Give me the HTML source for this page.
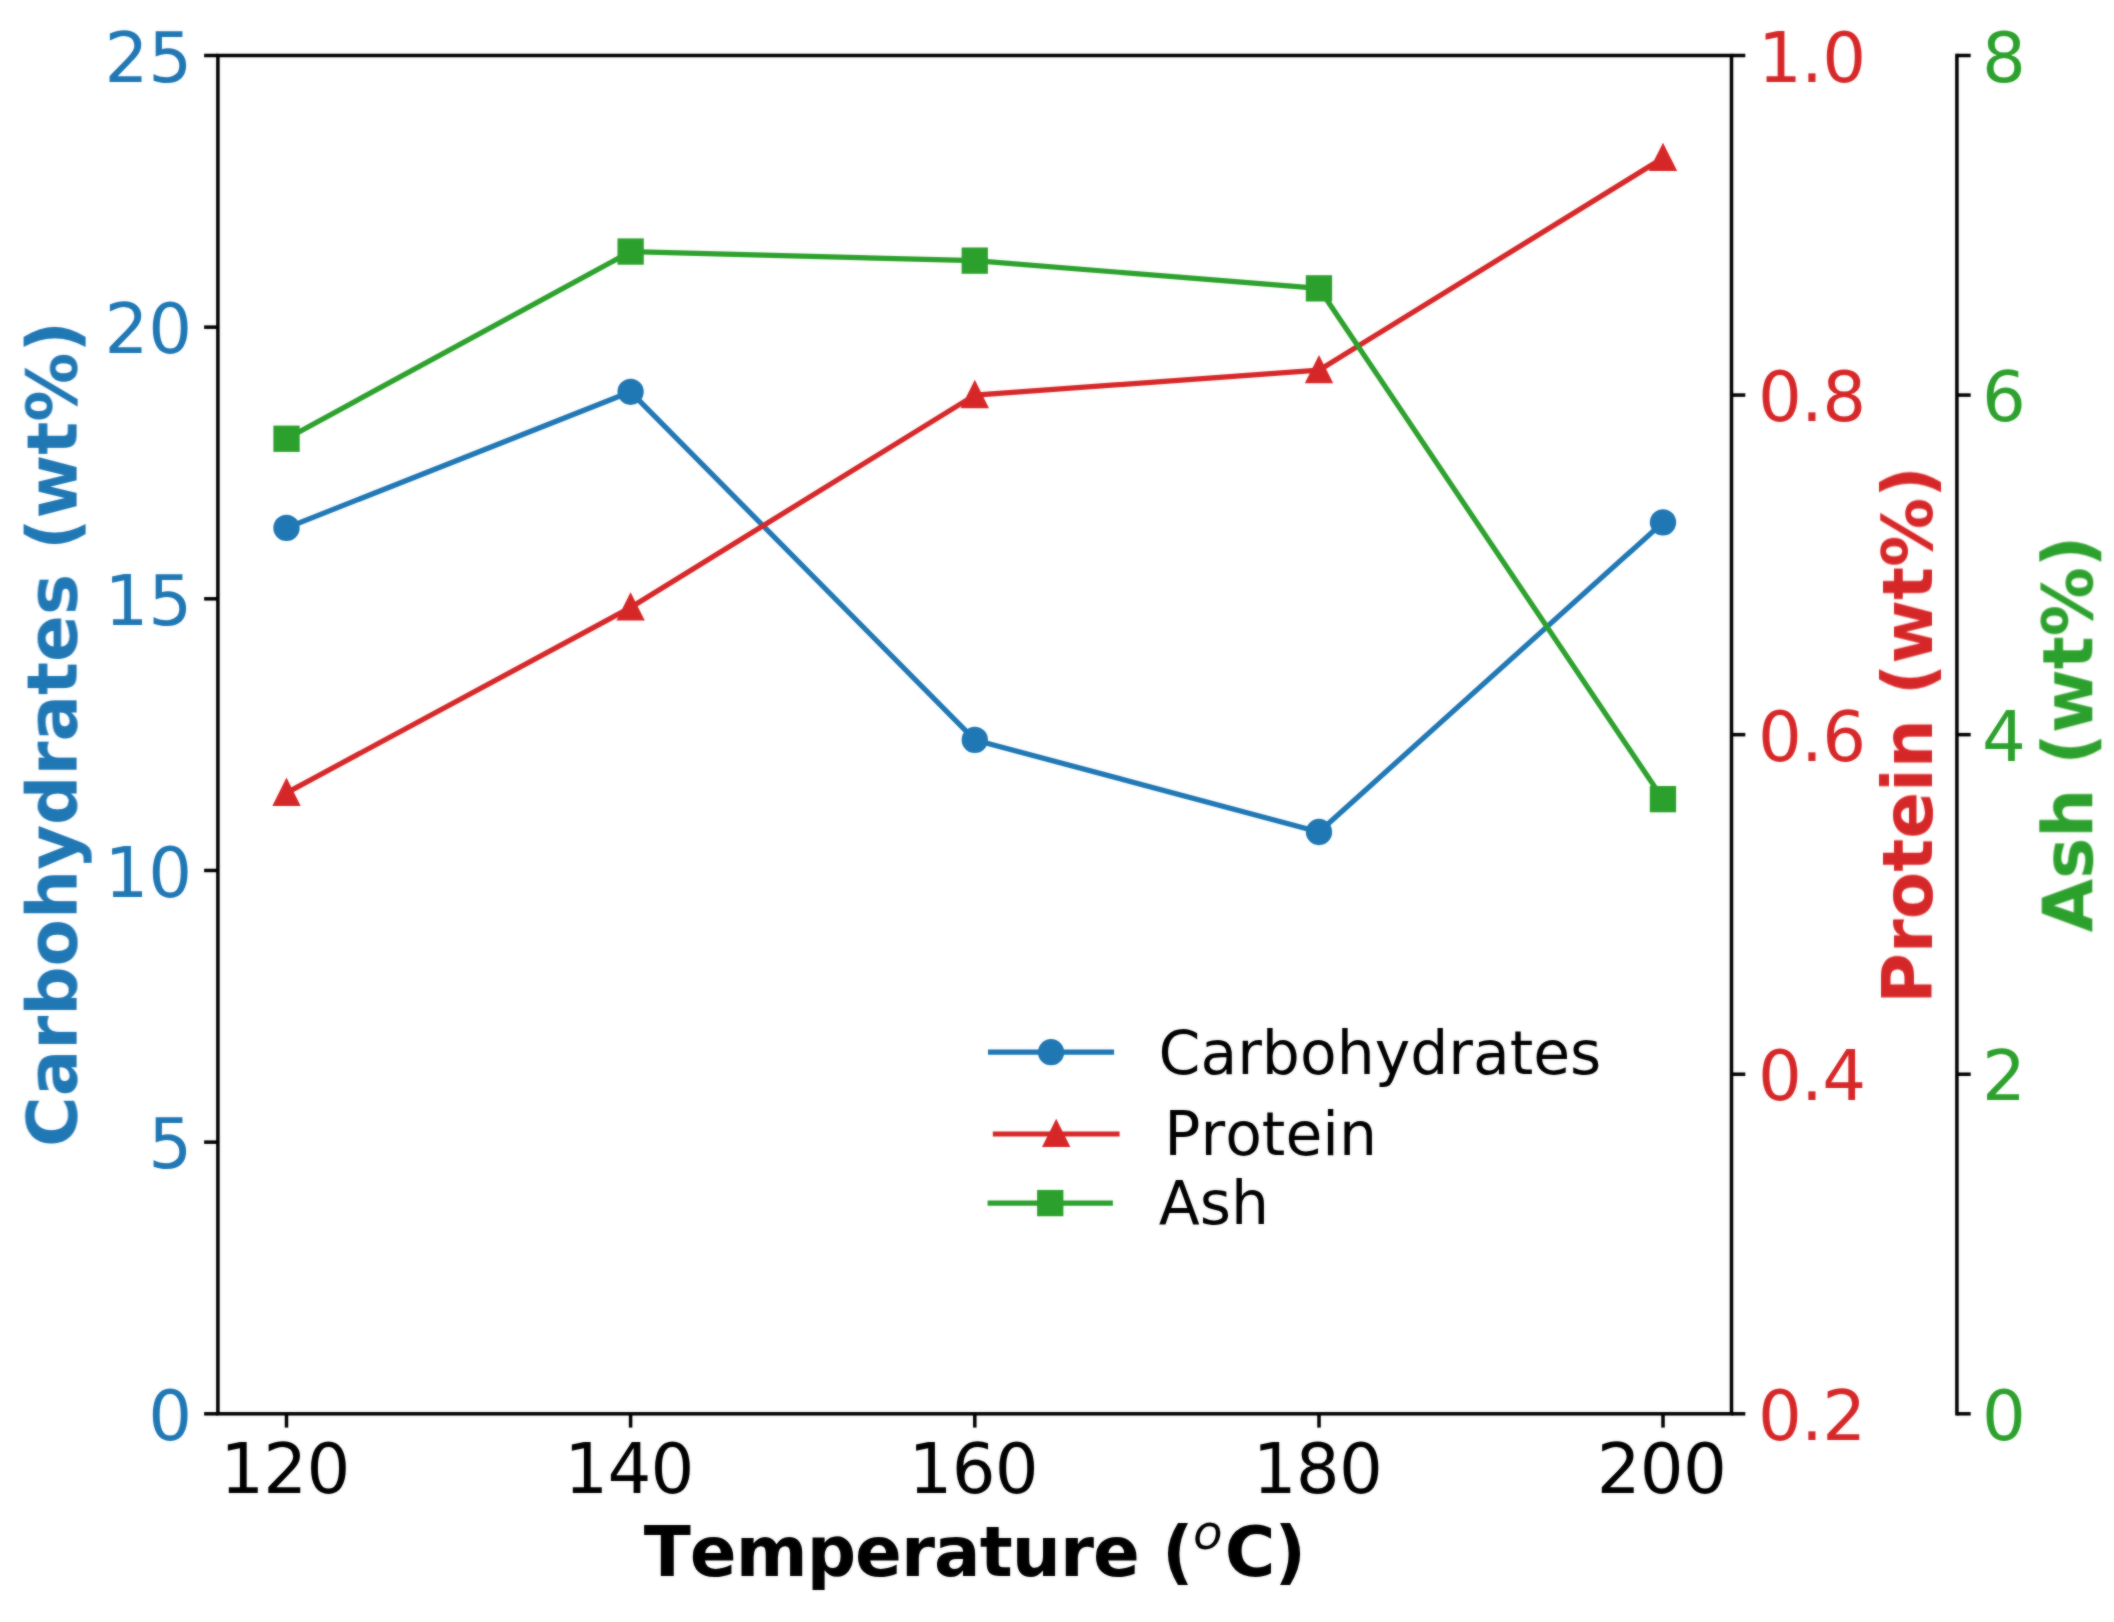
<!DOCTYPE html>
<html lang="en"><head><meta charset="utf-8"><title>Composition vs Temperature</title>
<style>html,body{margin:0;padding:0;background:#fff;}body{width:2114px;height:1622px;overflow:hidden;}svg{display:block;}</style>
</head><body>
<svg width="2114" height="1622" viewBox="0 0 2114 1622" font-family="'DejaVu Sans', 'Liberation Sans', sans-serif" font-kerning="none" style="font-kerning:none">
<rect width="2114" height="1622" fill="#fff"/>
<defs><filter id="soft" color-interpolation-filters="sRGB" x="0" y="0" width="2114" height="1622" filterUnits="userSpaceOnUse"><feGaussianBlur in="SourceGraphic" stdDeviation="0.8" result="b"/><feComposite in="SourceGraphic" in2="b" operator="arithmetic" k1="0" k2="0.5" k3="0.5" k4="0"/></filter></defs>
<g filter="url(#soft)">
<g id="carbohydrates"><polyline points="286.5,527.9 630.6,391.8 974.8,739.9 1319.0,832.0 1663.0,522.4" fill="none" stroke="#1f77b4" stroke-width="5.2" stroke-linejoin="round"/>
<circle cx="286.5" cy="527.9" r="13.15" fill="#1f77b4"/>
<circle cx="630.6" cy="391.8" r="13.15" fill="#1f77b4"/>
<circle cx="974.8" cy="739.9" r="13.15" fill="#1f77b4"/>
<circle cx="1319.0" cy="832.0" r="13.15" fill="#1f77b4"/>
<circle cx="1663.0" cy="522.4" r="13.15" fill="#1f77b4"/>
</g>
<g id="ax1" stroke="#000" fill="none">
<line x1="204.1" y1="1413.80" x2="217.9" y2="1413.80" stroke-width="3.5"/>
<line x1="204.1" y1="1142.14" x2="217.9" y2="1142.14" stroke-width="3.5"/>
<line x1="204.1" y1="870.48" x2="217.9" y2="870.48" stroke-width="3.5"/>
<line x1="204.1" y1="598.82" x2="217.9" y2="598.82" stroke-width="3.5"/>
<line x1="204.1" y1="327.16" x2="217.9" y2="327.16" stroke-width="3.5"/>
<line x1="204.1" y1="55.50" x2="217.9" y2="55.50" stroke-width="3.5"/>
<line x1="286.5" y1="1413.8" x2="286.5" y2="1427.6" stroke-width="3.5"/>
<line x1="630.6" y1="1413.8" x2="630.6" y2="1427.6" stroke-width="3.5"/>
<line x1="974.8" y1="1413.8" x2="974.8" y2="1427.6" stroke-width="3.5"/>
<line x1="1319.0" y1="1413.8" x2="1319.0" y2="1427.6" stroke-width="3.5"/>
<line x1="1663.0" y1="1413.8" x2="1663.0" y2="1427.6" stroke-width="3.5"/>
</g>
<g id="protein"><polyline points="286.5,792.9 630.6,607.5 974.8,395.1 1319.0,370.2 1663.0,158.0" fill="none" stroke="#d62728" stroke-width="5.2" stroke-linejoin="round"/>
<polygon points="286.5,777.6 272.3,806.0 300.7,806.0" fill="#d62728"/>
<polygon points="630.6,592.2 616.4,620.6 644.8,620.6" fill="#d62728"/>
<polygon points="974.8,379.8 960.6,408.2 989.0,408.2" fill="#d62728"/>
<polygon points="1319.0,354.9 1304.8,383.3 1333.2,383.3" fill="#d62728"/>
<polygon points="1663.0,142.7 1648.8,171.1 1677.2,171.1" fill="#d62728"/>
</g>
<g id="ax2" stroke="#000" fill="none">
<line x1="1731.5" y1="1413.80" x2="1745.3" y2="1413.80" stroke-width="3.5"/>
<line x1="1731.5" y1="1074.22" x2="1745.3" y2="1074.22" stroke-width="3.5"/>
<line x1="1731.5" y1="734.65" x2="1745.3" y2="734.65" stroke-width="3.5"/>
<line x1="1731.5" y1="395.07" x2="1745.3" y2="395.07" stroke-width="3.5"/>
<line x1="1731.5" y1="55.50" x2="1745.3" y2="55.50" stroke-width="3.5"/>
</g>
<g id="ash"><polyline points="286.5,438.7 630.6,251.6 974.8,260.7 1319.0,288.3 1663.0,799.1" fill="none" stroke="#2ca02c" stroke-width="5.2" stroke-linejoin="round"/>
<rect x="273.4" y="425.6" width="26.3" height="26.3" fill="#2ca02c"/>
<rect x="617.5" y="238.4" width="26.3" height="26.3" fill="#2ca02c"/>
<rect x="961.6" y="247.5" width="26.3" height="26.3" fill="#2ca02c"/>
<rect x="1305.8" y="275.2" width="26.3" height="26.3" fill="#2ca02c"/>
<rect x="1649.8" y="786.0" width="26.3" height="26.3" fill="#2ca02c"/>
</g>
<rect x="217.9" y="55.5" width="1513.6" height="1358.3" fill="none" stroke="#000" stroke-width="3.5"/>
<g font-size="69.0" fill="#1f77b4" text-anchor="end">
<text x="192.2" y="1439.8">0</text>
<text x="192.2" y="1168.1">5</text>
<text x="192.2" y="896.5">10</text>
<text x="192.2" y="624.8">15</text>
<text x="192.2" y="353.2">20</text>
<text x="192.2" y="81.5">25</text>
</g>
<g font-size="69.0" fill="#d62728" letter-spacing="-0.8">
<text x="1758" y="1439.8">0.2</text>
<text x="1758" y="1100.2">0.4</text>
<text x="1758" y="760.7">0.6</text>
<text x="1758" y="421.1">0.8</text>
<text x="1758" y="81.5">1.0</text>
</g>
<g font-size="69.0" fill="#000" text-anchor="middle" letter-spacing="-0.8">
<text x="284.9" y="1493">120</text>
<text x="629.0" y="1493">140</text>
<text x="973.2" y="1493">160</text>
<text x="1317.4" y="1493">180</text>
<text x="1661.4" y="1493">200</text>
</g>
<text transform="translate(76.6,1147) rotate(-90)" font-size="69.0" font-weight="bold" fill="#1f77b4">Carbohydrates (wt%)</text>
<text transform="translate(1932.0,1003.7) rotate(-90)" font-size="69.0" font-weight="bold" fill="#d62728">Protein (wt%)</text>
<g id="ax3" stroke="#000" fill="none">
<line x1="1956.9" y1="53.75" x2="1956.9" y2="1415.55" stroke-width="3.5"/>
<line x1="1956.9" y1="1413.80" x2="1970.7" y2="1413.80" stroke-width="3.5"/>
<line x1="1956.9" y1="1074.22" x2="1970.7" y2="1074.22" stroke-width="3.5"/>
<line x1="1956.9" y1="734.65" x2="1970.7" y2="734.65" stroke-width="3.5"/>
<line x1="1956.9" y1="395.08" x2="1970.7" y2="395.08" stroke-width="3.5"/>
<line x1="1956.9" y1="55.50" x2="1970.7" y2="55.50" stroke-width="3.5"/>
</g>
<g font-size="69.0" fill="#2ca02c">
<text x="1982" y="1439.8">0</text>
<text x="1982" y="1100.2">2</text>
<text x="1982" y="760.6">4</text>
<text x="1982" y="421.1">6</text>
<text x="1982" y="81.5">8</text>
</g>
<text transform="translate(2092.3,932.3) rotate(-90)" font-size="69.0" font-weight="bold" fill="#2ca02c">Ash (wt%)</text>
<text x="643.7" y="1576.2" font-size="69.0" font-weight="bold" fill="#000" letter-spacing="-0.93">Temperature (<tspan x="1192.9" y="1548.8" font-weight="normal" font-style="italic" font-size="48.3" letter-spacing="0">o</tspan><tspan x="1224.8" y="1576.2">C)</tspan></text>
<line x1="988.0" y1="1052.2" x2="1114.1" y2="1052.2" stroke="#1f77b4" stroke-width="5.2"/>
<circle cx="1051.05" cy="1052.2" r="13.15" fill="#1f77b4"/>
<text x="1158.5" y="1074.0" font-size="60.0" fill="#000">Carbohydrates</text>
<line x1="992.8" y1="1134.0" x2="1119.6" y2="1134.0" stroke="#d62728" stroke-width="5.2"/>
<polygon points="1056.2,1118.7 1042.0,1147.1 1070.4,1147.1" fill="#d62728"/>
<text x="1164.3" y="1155.3" font-size="60.0" fill="#000">Protein</text>
<line x1="987.6" y1="1203.1" x2="1112.9" y2="1203.1" stroke="#2ca02c" stroke-width="5.2"/>
<rect x="1037.1" y="1189.9499999999998" width="26.3" height="26.3" fill="#2ca02c"/>
<text x="1158.8" y="1224.2" font-size="60.0" fill="#000">Ash</text>
</g>
</svg>
</body></html>
